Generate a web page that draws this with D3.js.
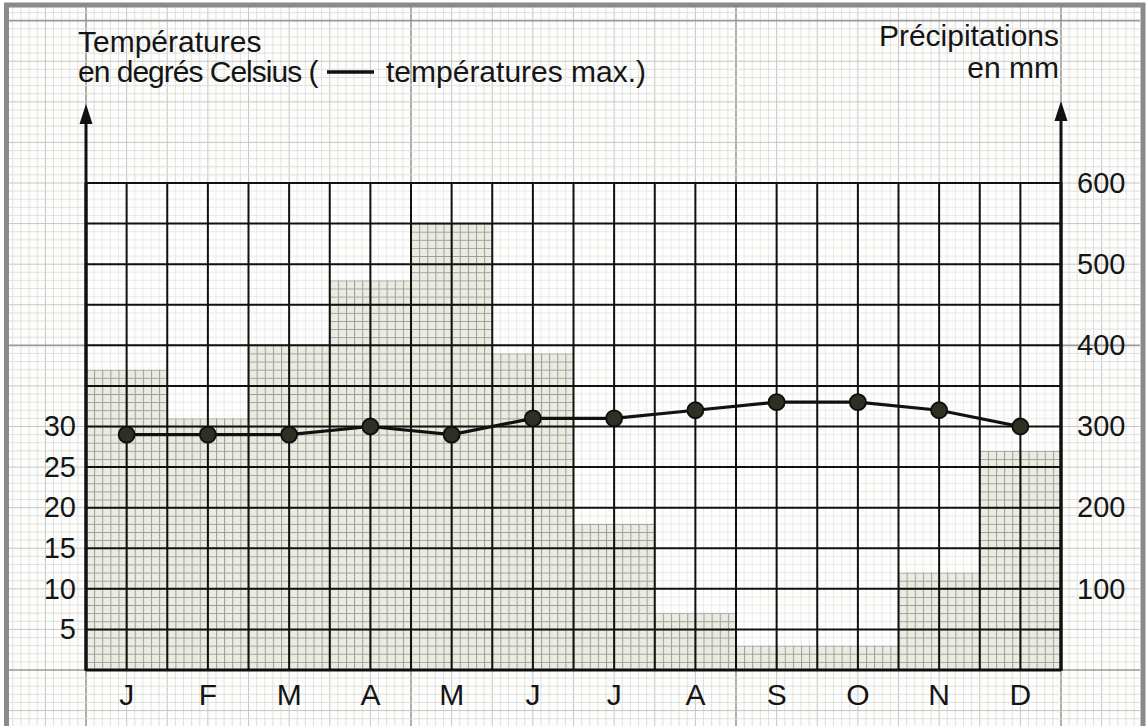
<!DOCTYPE html>
<html>
<head>
<meta charset="utf-8">
<script src="https://cdn.jsdelivr.net/npm/d3@7"></script>
<style>
  html, body { margin: 0; padding: 0; background: #fff; }
  svg { display: block; }
  text { font-family: "Liberation Sans", Arial, sans-serif; fill: #151515; }
</style>
</head>
<body>
<svg id="chart" width="1147" height="726"></svg>
<script>
// ---- data ----
const months = ["J", "F", "M", "A", "M", "J", "J", "A", "S", "O", "N", "D"];
const precipitation = [370, 310, 400, 480, 550, 390, 180, 70, 30, 30, 120, 270]; // mm
const tempMax = [29, 29, 29, 30, 29, 31, 31, 32, 33, 33, 32, 30]; // °C
const tempTicks = [5, 10, 15, 20, 25, 30];
const precipTicks = [100, 200, 300, 400, 500, 600];

const W = 1147, H = 726;
const pLeft = 86, pRight = 1061, pTop = 183, pBottom = 670;

const svg = d3.select("#chart");
const keys = months.map((m, i) => i);

const x = d3.scaleBand().domain(keys).range([pLeft, pRight]).padding(0);
const yP = d3.scaleLinear().domain([0, 600]).range([pBottom, pTop]);
const yT = d3.scaleLinear().domain([0, 60]).range([pBottom, pTop]);

const defs = svg.append("defs");
defs.append("clipPath").attr("id", "paperClip")
  .append("rect").attr("x", 9).attr("y", 7).attr("width", 1131).attr("height", 730);

// bar hatch pattern (graph paper printed darker inside bars)
const stepX = x.bandwidth() / 10, stepY = (yP(0) - yP(50)) / 5;
const pat = defs.append("pattern").attr("id", "barGrid")
  .attr("patternUnits", "userSpaceOnUse")
  .attr("x", pLeft).attr("y", pBottom)
  .attr("width", stepX).attr("height", stepY);
pat.append("rect").attr("width", stepX).attr("height", stepY).attr("fill", "#ebebdf");
pat.append("path").attr("d", `M0,0H${stepX}M0,0V${stepY}`)
  .attr("stroke", "#9c9ca2").attr("stroke-width", 2).attr("fill", "none");

// ---- graph paper background ----
const paper = svg.append("g").attr("clip-path", "url(#paperClip)");
paper.append("rect").attr("x", 0).attr("y", 0).attr("width", W).attr("height", H).attr("fill", "#fdfdfb");
const xs = [], ys = [];
for (let k = -20; k <= 130; k++) { const v = pLeft + k * stepX; if (v > 0 && v < W) xs.push({ v, k }); }
for (let k = -20; k <= 110; k++) { const v = pBottom - k * stepY; if (v > 0 && v < H) ys.push({ v, k }); }
function gridStyle(k) {
  const m = ((k % 40) + 40) % 40, f = ((k % 5) + 5) % 5;
  if (m === 0) return ["#9a9a9a", 1.6, 2];
  if (f === 0) return ["#c6c6c6", 1, 1];
  return ["#dddddd", 0.9, 0];
}
xs.sort((a, b) => gridStyle(a.k)[2] - gridStyle(b.k)[2]).forEach(d => {
  const s = gridStyle(d.k);
  paper.append("line").attr("x1", d.v).attr("x2", d.v).attr("y1", 0).attr("y2", H)
    .attr("stroke", s[0]).attr("stroke-width", s[1]);
});
ys.sort((a, b) => gridStyle(a.k)[2] - gridStyle(b.k)[2]).forEach(d => {
  const s = gridStyle(d.k);
  paper.append("line").attr("y1", d.v).attr("y2", d.v).attr("x1", 0).attr("x2", W)
    .attr("stroke", s[0]).attr("stroke-width", s[1]);
});

// plot area paper a little lighter
svg.append("rect").attr("x", pLeft).attr("y", pTop).attr("width", pRight - pLeft).attr("height", pBottom - pTop)
  .attr("fill", "#ffffff").attr("opacity", 0.35);

// ---- precipitation bars ----
svg.append("g").selectAll("rect").data(precipitation).join("rect")
  .attr("x", (d, i) => x(i))
  .attr("y", d => yP(d))
  .attr("width", x.bandwidth())
  .attr("height", d => yP(0) - yP(d))
  .attr("fill", "url(#barGrid)");

// ---- thick plot grid ----
const gridG = svg.append("g").attr("stroke", "#111").attr("fill", "none");
d3.range(0, 601, 50).forEach(v => {
  gridG.append("line").attr("x1", pLeft).attr("x2", pRight).attr("y1", yP(v)).attr("y2", yP(v))
    .attr("stroke-width", v === 0 ? 3 : 2);
});
d3.range(0, 25).forEach(h => {
  const xv = pLeft + h * x.bandwidth() / 2;
  gridG.append("line").attr("x1", xv).attr("x2", xv).attr("y1", pTop).attr("y2", pBottom)
    .attr("stroke-width", (h === 0 || h === 24) ? 3 : 2);
});

// ---- axes with arrows ----
svg.append("line").attr("x1", pLeft).attr("x2", pLeft).attr("y1", pBottom + 1).attr("y2", 118)
  .attr("stroke", "#111").attr("stroke-width", 3);
svg.append("path").attr("d", `M${pLeft},104L${pLeft - 6.5},124L${pLeft + 6.5},124Z`).attr("fill", "#111");
svg.append("line").attr("x1", pRight).attr("x2", pRight).attr("y1", pBottom + 1).attr("y2", 116)
  .attr("stroke", "#111").attr("stroke-width", 3);
svg.append("path").attr("d", `M${pRight},101L${pRight - 6.5},121L${pRight + 6.5},121Z`).attr("fill", "#111");

// ---- tick labels ----
const axL = svg.append("g").attr("transform", `translate(${pLeft},0)`)
  .call(d3.axisLeft(yT).tickValues(tempTicks).tickSize(0).tickPadding(10));
axL.select(".domain").remove();
axL.selectAll("text").style("font-size", "29px").attr("fill", "#151515");

const axR = svg.append("g").attr("transform", `translate(${pRight},0)`)
  .call(d3.axisRight(yP).tickValues(precipTicks).tickSize(0).tickPadding(16));
axR.select(".domain").remove();
axR.selectAll("text").style("font-size", "29px").attr("fill", "#151515");

const axB = svg.append("g").attr("transform", `translate(0,${pBottom})`)
  .call(d3.axisBottom(x).tickFormat(i => months[i]).tickSize(0).tickPadding(14));
axB.select(".domain").remove();
axB.selectAll("text").style("font-size", "30px").attr("fill", "#151515");

// ---- temperature line ----
const line = d3.line().x((d, i) => x(i) + x.bandwidth() / 2).y(d => yT(d));
svg.append("path").datum(tempMax).attr("d", line)
  .attr("fill", "none").attr("stroke", "#111").attr("stroke-width", 3.2);
svg.append("g").selectAll("circle").data(tempMax).join("circle")
  .attr("cx", (d, i) => x(i) + x.bandwidth() / 2)
  .attr("cy", d => yT(d))
  .attr("r", 8)
  .attr("fill", "#2c3124").attr("stroke", "#0d0d0d").attr("stroke-width", 1.8);

// ---- titles ----
svg.append("text").attr("x", 78).attr("y", 52).style("font-size", "30px").text("Températures");
svg.append("text").attr("x", 78).attr("y", 82).style("font-size", "30px")
  .style("letter-spacing", "-1px").text("en degrés Celsius (");
svg.append("line").attr("x1", 327).attr("x2", 374).attr("y1", 72).attr("y2", 72)
  .attr("stroke", "#111").attr("stroke-width", 3.5);
svg.append("text").attr("x", 386).attr("y", 82).style("font-size", "30px").text("températures max.)");

svg.append("text").attr("x", 1059).attr("y", 46).attr("text-anchor", "end").style("font-size", "30px").text("Précipitations");
svg.append("text").attr("x", 1059).attr("y", 78).attr("text-anchor", "end").style("font-size", "30px").text("en mm");

// ---- page frame ----
svg.append("rect").attr("x", 6.5).attr("y", 5).attr("width", 1136.5).attr("height", 800)
  .attr("fill", "none").attr("stroke", "#8a8a8a").attr("stroke-width", 5);
</script>
</body>
</html>
